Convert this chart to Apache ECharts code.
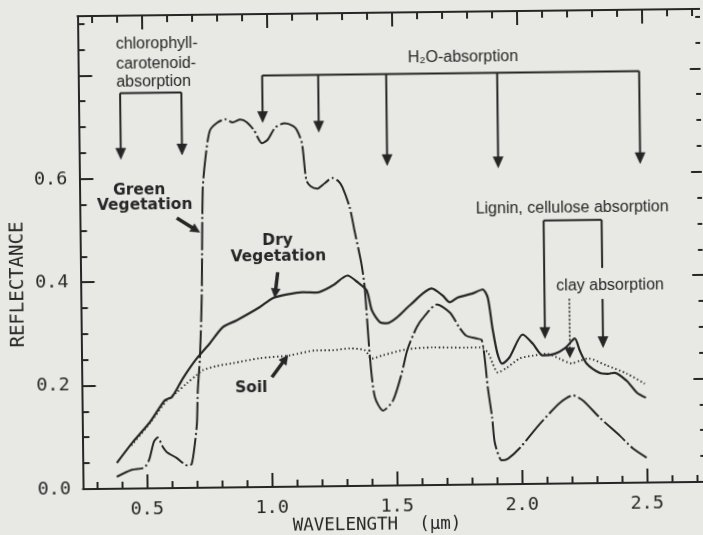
<!DOCTYPE html>
<html><head><meta charset="utf-8">
<script src="https://cdn.jsdelivr.net/npm/echarts@6/dist/echarts.min.js"></script>
<style>html,body{margin:0;padding:0;background:#e8e8e5;overflow:hidden;}#c{width:703px;height:535px;transform:rotate(-0.67deg);transform-origin:351.5px 267.5px;}</style>
</head><body><div id="c"></div>
<script>
// ---- data (wavelength µm, reflectance) ----
const greenWl = [0.38,0.44,0.49,0.51,0.53,0.545,0.565,0.58,0.62,0.665,0.68,0.694,0.703,0.708,0.718,0.728,0.737,0.75,0.768,0.796,0.83,0.86,0.89,0.916,0.945,0.976,1.0,1.03,1.068,1.1,1.116,1.136,1.152,1.17,1.196,1.225,1.256,1.28,1.296,1.324,1.342,1.368,1.38,1.398,1.416,1.448,1.488,1.524,1.548,1.587,1.62,1.668,1.72,1.757,1.784,1.828,1.846,1.858,1.868,1.884,1.894,1.921,1.945,1.994,2.075,2.156,2.208,2.248,2.315,2.394,2.446,2.5];
const greenR  = [0.023,0.036,0.040,0.055,0.090,0.098,0.080,0.070,0.058,0.043,0.046,0.086,0.125,0.189,0.252,0.368,0.577,0.640,0.690,0.705,0.712,0.706,0.711,0.706,0.690,0.665,0.672,0.695,0.703,0.698,0.690,0.664,0.592,0.580,0.576,0.586,0.596,0.590,0.578,0.539,0.494,0.430,0.385,0.248,0.171,0.145,0.164,0.216,0.262,0.306,0.328,0.349,0.333,0.304,0.288,0.282,0.279,0.239,0.187,0.129,0.079,0.046,0.049,0.070,0.116,0.156,0.170,0.160,0.126,0.091,0.066,0.048];
const dryWl = [0.381,0.446,0.515,0.576,0.604,0.649,0.705,0.758,0.811,0.867,0.96,1.012,1.07,1.132,1.188,1.252,1.312,1.352,1.388,1.408,1.44,1.468,1.508,1.56,1.648,1.692,1.72,1.752,1.808,1.852,1.872,1.889,1.908,1.927,1.956,2.01,2.05,2.09,2.138,2.18,2.218,2.238,2.265,2.316,2.348,2.376,2.424,2.464,2.5];
const dryR  = [0.050,0.090,0.128,0.170,0.176,0.212,0.250,0.279,0.310,0.323,0.348,0.365,0.372,0.376,0.375,0.388,0.407,0.394,0.378,0.339,0.316,0.314,0.325,0.348,0.380,0.366,0.353,0.362,0.369,0.377,0.361,0.303,0.253,0.233,0.245,0.289,0.271,0.248,0.251,0.262,0.280,0.256,0.231,0.213,0.211,0.213,0.197,0.174,0.164];
const soilWl = [0.44,0.515,0.584,0.624,0.664,0.704,0.728,0.784,0.849,0.957,1.078,1.186,1.25,1.318,1.378,1.405,1.45,1.546,1.65,1.786,1.838,1.87,1.889,1.909,1.945,1.998,2.05,2.106,2.158,2.205,2.238,2.27,2.345,2.425,2.496];
const soilR  = [0.083,0.126,0.170,0.185,0.202,0.218,0.227,0.235,0.240,0.249,0.254,0.263,0.263,0.266,0.262,0.246,0.252,0.263,0.266,0.265,0.265,0.255,0.233,0.216,0.225,0.243,0.248,0.251,0.241,0.232,0.237,0.241,0.227,0.211,0.191];

// ---- axis extents ----
const xMin = 0.244, xMax = 2.755, yMin = 0, yMax = 0.915;

// ---- annotation anchors (data coordinates) ----
const chlArrowWl = [0.411, 0.656], chlBracketR = 0.765, chlTipR = [0.637, 0.644];
const chlText = ['chlorophyll-', 'carotenoid-', 'absorption'], chlTextWl = 0.396, chlTextR = [0.86, 0.821, 0.786];
const h2oArrowWl = [0.98, 1.204, 1.476, 1.92, 2.488], h2oBracketR = 0.796, h2oTipR = [0.705, 0.685, 0.619, 0.612, 0.617];
const h2oTextPos = [1.784, 0.826];
const ligArrowWl = [2.099, 2.331], ligBracketR = 0.509, ligTipR = [0.281, 0.262], ligGapR = [0.416, 0.356];
const ligTextPos = [2.214, 0.533];
const clayWl = 2.198, clayTopR = 0.357, clayTipR = 0.243, clayTextPos = [2.362, 0.382];
const greenLabel = [[0.483, 0.577, 'Green'], [0.504, 0.548, 'Vegetation']], greenArrow = [[0.632, 0.522], [0.723, 0.494]];
const dryLabel = [[1.034, 0.475, 'Dry'], [1.036, 0.444, 'Vegetation']], dryArrow = [[1.033, 0.415], [1.02, 0.366]];
const soilLabel = [[0.922, 0.191, 'Soil']], soilArrow = [[1.005, 0.212], [1.07, 0.254]];

const INK = '#262626';
const zip = (a, b) => a.map((v, i) => [v, b[i]]);
const MONO = '"DejaVu Sans Mono", monospace';
const SANS = '"Liberation Sans", Arial, sans-serif';

const fx = v => (Math.abs(v * 2 - Math.round(v * 2)) < 1e-6 && v > 0.3 && v < 2.6) ? v.toFixed(1) : '';
const fy = v => (Math.abs(v * 5 - Math.round(v * 5)) < 1e-6 && v < 0.61) ? v.toFixed(1) : '';

function xAx(pos) {
  return {
    type: 'value', min: xMin, max: xMax, splitNumber: 5, position: pos,
    axisLine: { show: true, onZero: false, lineStyle: { color: INK, width: 2 } },
    axisTick: { show: true, inside: true, length: 14, lineStyle: { color: INK, width: 2 } },
    minorTick: { show: true, splitNumber: 5, length: 7, lineStyle: { color: INK, width: 2 } },
    axisLabel: { show: pos === 'bottom', margin: 12, formatter: fx, color: INK, fontFamily: MONO, fontSize: 18.5 },
    splitLine: { show: false }, minorSplitLine: { show: false }
  };
}
function yAx(pos) {
  const right = pos === 'right';
  return {
    type: 'value', min: yMin, max: yMax, splitNumber: 5, position: pos,
    axisLine: { show: true, onZero: false, lineStyle: { color: INK, width: 2 } },
    axisTick: { show: true, inside: true, length: right ? 16 : 14, lineStyle: { color: INK, width: 2 } },
    minorTick: { show: true, splitNumber: 4, length: right ? 10 : 7, lineStyle: { color: INK, width: 2 } },
    axisLabel: { show: !right, margin: 12, formatter: fy, color: INK, fontFamily: MONO, fontSize: 18.5 },
    splitLine: { show: false }, minorSplitLine: { show: false }
  };
}

const chart = echarts.init(document.getElementById('c'), null, { renderer: 'canvas' });
chart.setOption({
  animation: false,
  backgroundColor: '#e8e8e5',
  grid: { left: 80.4, top: 12.9, width: (xMax - xMin) * 250, height: 473, containLabel: false, outerBoundsMode: 'none' },
  xAxis: [xAx('bottom'), xAx('top')],
  yAxis: [yAx('left'), yAx('right')],
  series: [
    { name: 'Green Vegetation', type: 'line', xAxisIndex: 0, yAxisIndex: 0, data: zip(greenWl, greenR), showSymbol: false, smooth: 0.25,
      lineStyle: { color: INK, width: 2, type: [28, 3, 2, 3] } },
    { name: 'Dry Vegetation', type: 'line', xAxisIndex: 0, yAxisIndex: 0, data: zip(dryWl, dryR), showSymbol: false, smooth: 0.25,
      lineStyle: { color: INK, width: 2.2 } },
    { name: 'Soil', type: 'line', xAxisIndex: 0, yAxisIndex: 0, data: zip(soilWl, soilR), showSymbol: false, smooth: 0.25,
      lineStyle: { color: '#2e2e2e', width: 1.9, type: [1.4, 2.6], cap: 'butt' } }
  ]
});

const P = (w, r) => chart.convertToPixel({ xAxisIndex: 0, yAxisIndex: 0 }, [w, r]);
const G = [];
function poly(pts, w, dash) {
  G.push({ type: 'polyline', silent: true, shape: { points: pts }, style: { stroke: INK, lineWidth: w, lineDash: dash || null, fill: null } });
}
function arrow(tail, tip, w, L, W, dash) {
  const dx = tip[0] - tail[0], dy = tip[1] - tail[1], d = Math.hypot(dx, dy);
  const ux = dx / d, uy = dy / d, bx = tip[0] - ux * L, by = tip[1] - uy * L;
  poly([tail, [bx + ux * 1, by + uy * 1]], w, dash);
  G.push({ type: 'polygon', silent: true, shape: { points: [tip, [bx - uy * W, by + ux * W], [bx + uy * W, by - ux * W]] }, style: { fill: INK, stroke: INK, lineWidth: 0.5 } });
}
function text(x, y, s, font, align) {
  G.push({ type: 'text', silent: true, x: x, y: y, style: { text: s, font: font, fill: INK, align: align || 'center', verticalAlign: 'middle' } });
}
const ANN = '16px ' + SANS;
const LBL = 'bold 15.5px "DejaVu Sans", sans-serif';

// chlorophyll bracket
{
  poly([P(chlArrowWl[0], chlBracketR), P(chlArrowWl[1], chlBracketR)], 2);
  chlArrowWl.forEach((w, i) => arrow(P(w, chlBracketR), P(w, chlTipR[i]), 2, 11, 5));
  chlText.forEach((s, i) => { const p = P(chlTextWl, chlTextR[i]); text(p[0], p[1], s, ANN, 'left'); });
}
// H2O bracket
{
  poly([P(h2oArrowWl[0], h2oBracketR), P(h2oArrowWl[h2oArrowWl.length - 1], h2oBracketR)], 2);
  h2oArrowWl.forEach((w, i) => arrow(P(w, h2oBracketR), P(w, h2oTipR[i]), 2, 11, 5));
  const p = P(h2oTextPos[0], h2oTextPos[1]);
  text(p[0], p[1], 'H\u2082O-absorption', ANN);
}
// lignin / cellulose and clay
{
  poly([P(ligArrowWl[0], ligBracketR), P(ligArrowWl[1], ligBracketR)], 2);
  arrow(P(ligArrowWl[0], ligBracketR), P(ligArrowWl[0], ligTipR[0]), 2, 11, 5);
  poly([P(ligArrowWl[1], ligBracketR), P(ligArrowWl[1], ligGapR[0])], 2);
  arrow(P(ligArrowWl[1], ligGapR[1]), P(ligArrowWl[1], ligTipR[1]), 2, 11, 5);
  const p = P(ligTextPos[0], ligTextPos[1]);
  text(p[0], p[1], 'Lignin, cellulose absorption', ANN);
  arrow(P(clayWl, clayTopR), P(clayWl, clayTipR), 1.6, 10, 5, [2, 2]);
  const q = P(clayTextPos[0], clayTextPos[1]);
  text(q[0], q[1], 'clay absorption', ANN);
}
// curve labels
[[greenLabel, greenArrow], [dryLabel, dryArrow], [soilLabel, soilArrow]].forEach(([lbls, arr]) => {
  lbls.forEach(l => { const p = P(l[0], l[1]); text(p[0], p[1], l[2], LBL); });
  arrow(P(arr[0][0], arr[0][1]), P(arr[1][0], arr[1][1]), 3.5, 9, 4.5);
});
// axis titles
G.push({ type: 'text', silent: true, x: 374, y: 525.3, style: { text: 'WAVELENGTH  (\u00b5m)', font: '17.5px ' + MONO, fill: INK, align: 'center', verticalAlign: 'middle' } });
G.push({ type: 'text', silent: true, x: 17.9, y: 280.6, rotation: Math.PI / 2, style: { text: 'REFLECTANCE', font: '19px ' + MONO, fill: INK, align: 'center', verticalAlign: 'middle' } });

chart.setOption({ graphic: G });
</script></body></html>
